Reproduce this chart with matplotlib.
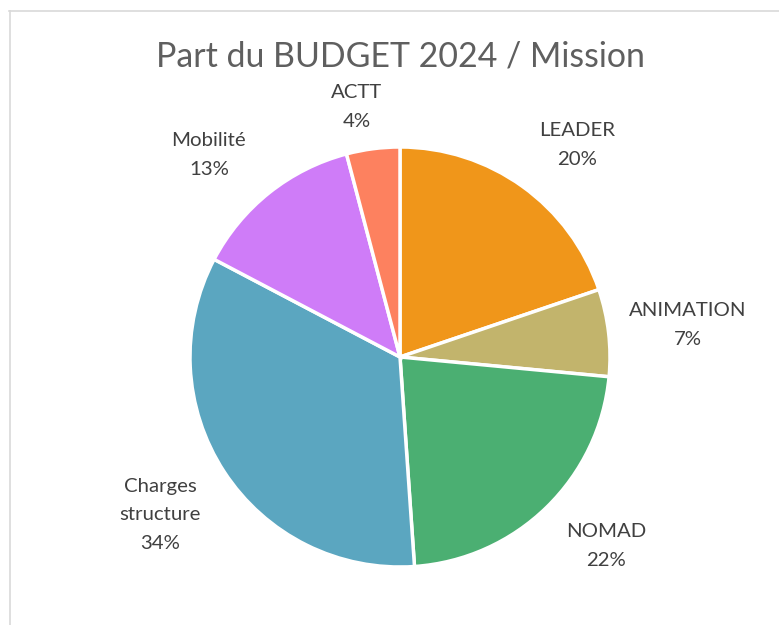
import numpy as np
import matplotlib.pyplot as plt
from matplotlib.lines import Line2D

# data
missions = ["LEADER", "ANIMATION", "NOMAD", "Charges\nstructure", "Mobilité", "ACTT"]
parts = [19.8, 6.7, 22.4, 33.8, 13.2, 4.1]
colors = ["#F0961A", "#C2B46C", "#4BAF72", "#5BA6C0", "#CF7CF8", "#FD815F"]
# label centres (pie radius units)
label_pos = [(0.843, 1.010), (1.371, 0.152), (0.981, -0.900),
             (-1.143, -0.752), (-0.910, 0.962), (-0.205, 1.190)]

plt.rcParams['font.family'] = ['Lato', 'DejaVu Sans']

fig = plt.figure(figsize=(7.79, 6.25), dpi=100)
ax = fig.add_axes([(400 - 210) / 779, (268 - 210) / 625, 420 / 779, 420 / 625])

wedges, _ = ax.pie(parts, colors=colors, startangle=90, counterclock=False,
                   radius=1, wedgeprops=dict(edgecolor="white", linewidth=2.5))
ax.set_xlim(-1, 1)
ax.set_ylim(-1, 1)
ax.set_aspect("equal")
ax.axis("off")

total = sum(parts)
for name, p, (x, y) in zip(missions, parts, label_pos):
    ax.text(x, y, "%s\n%d%%" % (name, round(p / total * 100)), ha="center", va="center",
            fontsize=14.7, color="#404040", linespacing=1.84, clip_on=False)

fig.text(400 / 779, 1 - 57 / 625, "Part du BUDGET 2024 / Mission", ha="center", va="center",
         fontsize=24.4, color="#5f5f5f")

# chart area border (top and left only visible)
fig.add_artist(Line2D([9 / 779, 1], [1 - 11 / 625, 1 - 11 / 625], color="#D9D9D9", lw=1.2))
fig.add_artist(Line2D([10 / 779, 10 / 779], [0, 1 - 11 / 625], color="#D9D9D9", lw=1.2))

fig.savefig("out.png", dpi=100)
